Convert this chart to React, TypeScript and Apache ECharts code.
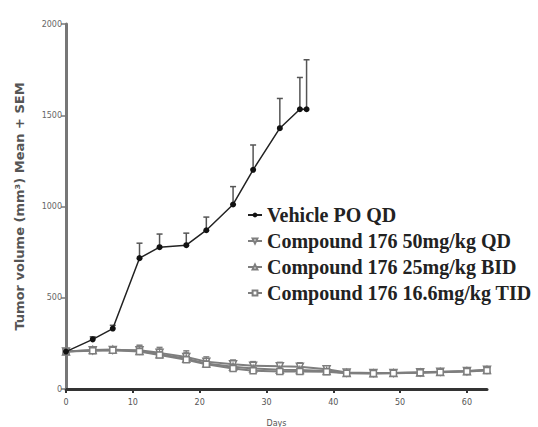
import React, { useEffect, useRef } from "react";
import * as echarts from "echarts";

const vehicleDays = [0, 4, 7, 11, 14, 18, 21, 25, 28, 32, 35, 36];
const vehicleMean = [205, 272, 331, 717, 777, 788, 870, 1011, 1201, 1429, 1533, 1533];
const vehicleSem = [0, 14, 18, 82, 72, 66, 72, 98, 136, 163, 174, 271];

const treatDays = [0, 4, 7, 11, 14, 18, 21, 25, 28, 32, 35, 39, 42, 46, 49, 53, 56, 60, 63];
const qd50Mean = [205, 212, 214, 212, 198, 175, 150, 135, 128, 124, 122, 108, 90, 88, 88, 92, 95, 98, 106];
const qd50Sem = [0, 12, 14, 28, 30, 34, 26, 24, 22, 22, 22, 18, 8, 6, 6, 8, 10, 10, 12];
const bid25Mean = [205, 214, 216, 208, 190, 166, 140, 122, 112, 106, 104, 98, 88, 86, 87, 90, 93, 97, 104];
const bid25Sem = [0, 10, 12, 26, 28, 32, 24, 22, 20, 20, 20, 16, 8, 6, 6, 8, 10, 10, 12];
const tid16Mean = [205, 210, 212, 206, 186, 160, 135, 112, 100, 96, 96, 95, 86, 85, 86, 89, 92, 96, 102];
const tid16Sem = [0, 10, 12, 24, 26, 30, 22, 20, 18, 18, 18, 14, 8, 6, 6, 8, 10, 10, 12];

const seriesNames = [
  "Vehicle PO QD",
  "Compound 176 50mg/kg QD",
  "Compound 176 25mg/kg BID",
  "Compound 176 16.6mg/kg TID",
];
const xTicks = [0, 10, 20, 30, 40, 50, 60];

function pairs(xs: number[], ys: number[]) {
  return xs.map((x, i) => [x, ys[i]]);
}
function triples(xs: number[], ys: number[], es: number[]) {
  return xs.map((x, i) => [x, ys[i], es[i]]);
}

function errSeries(data: number[][], color: string, z: number) {
  return {
    type: "custom",
    silent: true,
    z,
    renderItem: (params: any, api: any) => {
      const x = api.value(0);
      const m = api.value(1);
      const e = api.value(2);
      if (!e) return null;
      const p0 = api.coord([x, m]);
      const p1 = api.coord([x, m + e]);
      return {
        type: "group",
        children: [
          { type: "line", shape: { x1: p0[0], y1: p0[1], x2: p1[0], y2: p1[1] }, style: { stroke: color, lineWidth: 1.5 } },
          { type: "line", shape: { x1: p1[0] - 3, y1: p1[1], x2: p1[0] + 3, y2: p1[1] }, style: { stroke: color, lineWidth: 1.5 } },
        ],
      };
    },
    data,
  };
}

export default function App() {
  const ref = useRef<HTMLDivElement>(null);
  useEffect(() => {
    const chart = echarts.init(ref.current!, null, { renderer: "svg" });
    const gray = "#7e7e7e";
    const axisColor = "#777";
    chart.setOption({
      animation: false,
      backgroundColor: "#fff",
      grid: { left: 66, right: 51, top: 24, bottom: 38, containLabel: false, outerBoundsMode: "none" },
      legend: {
        orient: "vertical",
        left: 242,
        top: 200,
        itemGap: 6,
        itemWidth: 14,
        itemHeight: 6,
        data: seriesNames,
        textStyle: { fontFamily: "Liberation Serif", fontWeight: "bold", fontSize: 20, color: "#222" },
      },
      xAxis: {
        type: "value",
        min: 0,
        max: 63,
        interval: 10,
        name: "Days",
        nameLocation: "middle",
        nameGap: 30,
        nameTextStyle: { fontFamily: "DejaVu Sans", fontSize: 8, color: "#555" },
        axisLine: { show: true, lineStyle: { color: "#333", width: 3 } },
        axisTick: { show: true, customValues: xTicks, length: 4, lineStyle: { color: "#333", width: 2 } },
        axisLabel: { customValues: xTicks, fontFamily: "DejaVu Sans", fontSize: 8, color: "#555", margin: 9 },
        splitLine: { show: false },
      },
      yAxis: {
        type: "value",
        min: 0,
        max: 2000,
        interval: 500,
        name: "Tumor volume (mm³) Mean + SEM",
        nameLocation: "middle",
        nameGap: 40,
        nameTextStyle: { fontFamily: "DejaVu Sans", fontWeight: "bold", fontSize: 13, color: "#555" },
        axisLine: { show: true, lineStyle: { color: axisColor, width: 3 } },
        axisTick: { show: true, length: 5, lineStyle: { color: axisColor, width: 1.5 } },
        axisLabel: {
          fontFamily: "DejaVu Sans",
          fontSize: 8,
          color: "#666",
          margin: 4,
          formatter: (v: number) => String(v),
        },
        splitLine: { show: false },
      },
      series: [
        errSeries(triples(treatDays, qd50Mean, qd50Sem), gray, 1),
        errSeries(triples(treatDays, bid25Mean, bid25Sem), gray, 1),
        errSeries(triples(treatDays, tid16Mean, tid16Sem), gray, 1),
        errSeries(triples(vehicleDays, vehicleMean, vehicleSem), "#555", 3),
        {
          name: seriesNames[1],
          type: "line",
          data: pairs(treatDays, qd50Mean),
          symbol: "path://M0,0L10,0L5,9Z",
          symbolSize: 7,
          color: gray,
          lineStyle: { color: gray, width: 2 },
          itemStyle: { color: "#fff", borderColor: gray, borderWidth: 1.5 },
          z: 2,
        },
        {
          name: seriesNames[2],
          type: "line",
          data: pairs(treatDays, bid25Mean),
          symbol: "triangle",
          symbolSize: 7,
          color: gray,
          lineStyle: { color: gray, width: 2 },
          itemStyle: { color: "#fff", borderColor: gray, borderWidth: 1.5 },
          z: 2,
        },
        {
          name: seriesNames[3],
          type: "line",
          data: pairs(treatDays, tid16Mean),
          symbol: "rect",
          symbolSize: 6,
          color: gray,
          lineStyle: { color: gray, width: 2 },
          itemStyle: { color: "#fff", borderColor: gray, borderWidth: 1.5 },
          z: 2,
        },
        {
          name: seriesNames[0],
          type: "line",
          data: pairs(vehicleDays, vehicleMean),
          symbol: "circle",
          symbolSize: 6,
          color: "#111",
          lineStyle: { color: "#222", width: 1.5 },
          itemStyle: { color: "#111" },
          z: 4,
        },
      ],
    });
    return () => chart.dispose();
  }, []);
  return <div ref={ref} style={{ width: 538, height: 427, position: "absolute", left: 0, top: 0 }} />;
}
